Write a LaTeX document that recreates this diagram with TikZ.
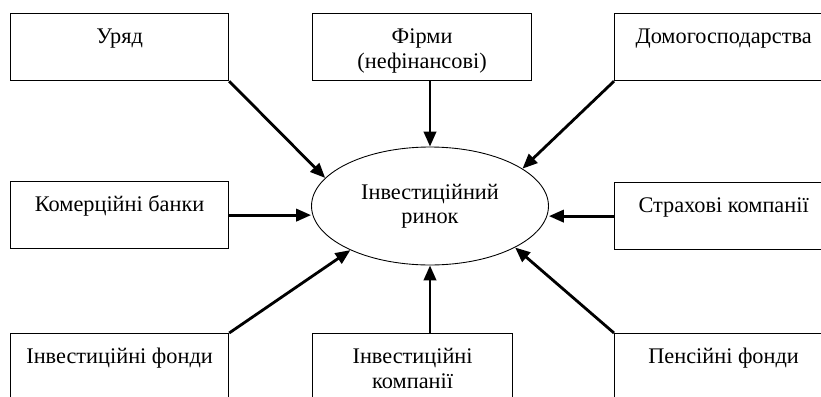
\documentclass[tikz,border=0pt]{standalone}
\usepackage{fontspec}
\setmainfont{Liberation Serif}
\usetikzlibrary{shapes.geometric, arrows.meta, calc}

\begin{document}
\begin{tikzpicture}[x=0.02cm, y=-0.02cm,
  agent/.style={draw, line width=0.7pt, anchor=north west, minimum width=4.36cm,
    minimum height=1.34cm, inner sep=0pt, align=center,
    font=\fontsize{12.7pt}{14.4pt}\selectfont, text height=10pt, text depth=14pt},
  twoline/.style={text height=24.4pt, text depth=0pt},
  flow/.style={line width=1.6pt, -{Triangle[length=8.5pt,width=7pt]}}]
\useasboundingbox (0,0) rectangle (821,396);

% Market in the middle
\node[ellipse, draw, line width=0.5pt, minimum width=4.74cm, minimum height=2.36cm,
  inner sep=0pt, align=center, font=\fontsize{12.7pt}{13.6pt}\selectfont] (market) at (430,206)
  {Інвестиційний\\ринок};

% Top row
\node[agent] (uryad) at (10,13) {Уряд};
\node[agent, twoline, minimum width=4.38cm] (firms) at (312,13) {Фірми\\(нефінансові)};
\node[agent] (house) at (614,13) {Домогосподарства};

% Middle row
\node[agent] (kombank) at (10,181) {Комерційні банки};
\node[agent] (insur) at (614,182) {Страхові компанії};

% Bottom row
\node[agent] (invfund) at (10,333) {Інвестиційні фонди};
\node[agent, twoline, minimum width=4cm] (invcomp) at (312,333) {Інвестиційні\\компанії};
\node[agent] (pension) at (614,333) {Пенсійні фонди};

% Flows into the market
\draw[flow] (uryad.south east) -- (market.165);
\draw[flow] (firms.south -| market.north) -- (market.north);
\draw[flow] (house.south west) -- (market.22);
\draw[flow] (kombank.east) -- (kombank.east -| market.west);
\draw[flow] (insur.west) -- (insur.west -| market.east);
\draw[flow] (invfund.north east) -- (market.209);
\draw[flow] (invcomp.north -| market.south) -- (market.south);
\draw[flow] (pension.north west) -- (market.334);
\end{tikzpicture}
\end{document}
